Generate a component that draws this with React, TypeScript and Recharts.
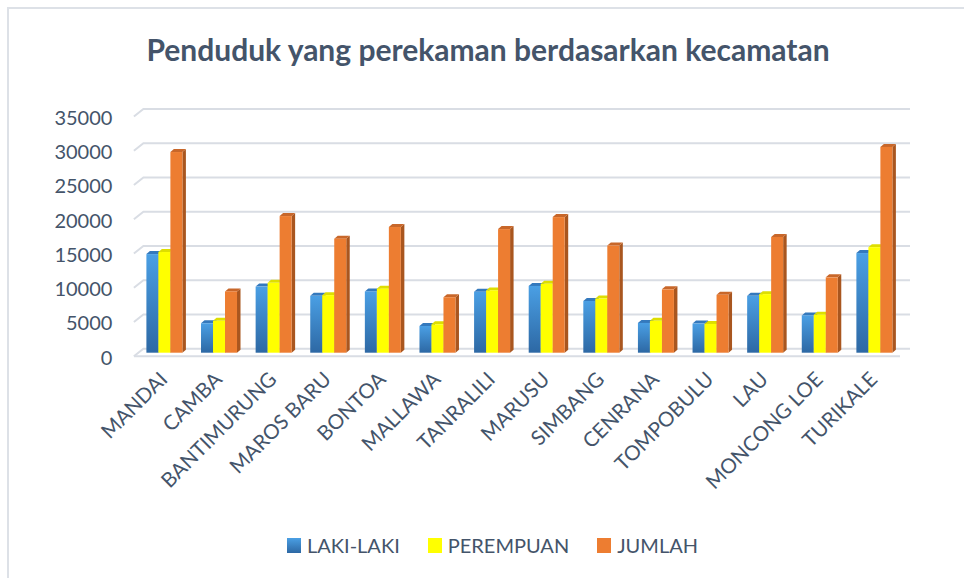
import React from 'react';
import { BarChart, Bar, XAxis, YAxis, CartesianGrid, Legend } from 'recharts';

const categories = ['MANDAI', 'CAMBA', 'BANTIMURUNG', 'MAROS BARU', 'BONTOA', 'MALLAWA', 'TANRALILI', 'MARUSU', 'SIMBANG', 'CENRANA', 'TOMPOBULU', 'LAU', 'MONCONG LOE', 'TURIKALE'];
const lakiLaki = [14400, 4300, 9650, 8300, 8950, 3900, 8900, 9750, 7550, 4350, 4250, 8300, 5450, 14550];
const perempuan = [14700, 4650, 10200, 8400, 9350, 4150, 9100, 10050, 7900, 4650, 4200, 8550, 5550, 15400];
const jumlah = [29300, 8950, 19950, 16650, 18350, 8100, 18050, 19800, 15650, 9250, 8450, 16900, 11000, 30050];
const yTicks = [0, 5000, 10000, 15000, 20000, 25000, 30000, 35000];
const seriesNames = ['LAKI-LAKI', 'PEREMPUAN', 'JUMLAH'];
const title = 'Penduduk yang perekaman berdasarkan kecamatan';

const data = categories.map((c, i) => ({
  name: c,
  laki: lakiLaki[i],
  perempuan: perempuan[i],
  jumlah: jumlah[i],
}));

const TEXT = '#44546a';
const FONT = 'Lato, "Open Sans", sans-serif';
const GRID = '#d9dde4';

const makeShape = (front: string, side: string, top: string) => (props: any) => {
  const { x, y, width, height } = props;
  if (!height || height <= 0) return <g />;
  const dx = 3.5;
  const dy = 3;
  const base = y + height;
  return (
    <g>
      <polygon points={`${x + width},${y} ${x + width + dx},${y - dy} ${x + width + dx},${base - dy} ${x + width},${base}`} fill={side} />
      <polygon points={`${x},${y} ${x + dx},${y - dy} ${x + width + dx},${y - dy} ${x + width},${y}`} fill={top} />
      <rect x={x} y={y} width={width} height={height} fill={front} />
    </g>
  );
};

const blueShape = makeShape('url(#blueGrad)', '#2a5f96', '#3479bd');
const yellowShape = makeShape('#ffff00', '#c4c400', '#dede00');
const orangeShape = makeShape('#ed7d31', '#a9561f', '#c8672a');

const YTick = (props: any) => (
  <text x={props.x} y={props.y + 4} textAnchor="end" dominantBaseline="central" fill={TEXT} fontSize={20} fontFamily={FONT}>
    {props.payload.value}
  </text>
);

const XTick = (props: any) => {
  const tx = props.x + 4;
  const ty = props.y + 20;
  return (
    <text x={tx} y={ty} transform={`rotate(-45 ${tx} ${ty})`} textAnchor="end" fill={TEXT} fontSize={20.5} fontFamily={FONT}>
      {props.payload.value}
    </text>
  );
};

const gridLine = (props: any) => {
  const { x1, x2, y1 } = props;
  const y = y1;
  const isFloor = y > 340;
  return (
    <g key={props.key}>
      <polyline points={`${x1 - 3.5},${y + 3.5} ${x1 + 6},${y - 4} ${x2 + 8},${y - 4}`} fill="none" stroke={GRID} strokeWidth={2} />
      {isFloor ? <line x1={x1 - 3.5} y1={y + 3.5} x2={x2 - 2} y2={y + 3.5} stroke={GRID} strokeWidth={2} /> : null}
    </g>
  );
};

const swatches = ['url(#blueGradL)', '#ffff00', '#ed7d31'];

const LegendContent = () => (
  <div style={{ display: 'flex', alignItems: 'center', marginLeft: 287, fontFamily: FONT, fontSize: 20, color: TEXT }}>
    {seriesNames.map((n, i) => (
      <div key={n} style={{ display: 'flex', alignItems: 'center', marginRight: 28 }}>
        <svg width={14} height={15} style={{ marginRight: 6 }}>
          <defs>
            <linearGradient id="blueGradL" x1="0" y1="0" x2="0" y2="1">
              <stop offset="0%" stopColor="#4a9fe4" />
              <stop offset="100%" stopColor="#2d68a4" />
            </linearGradient>
          </defs>
          <rect x={0} y={0} width={14} height={15} fill={swatches[i]} />
        </svg>
        <span>{n}</span>
      </div>
    ))}
  </div>
);

export default function App() {
  return (
    <div style={{ position: 'absolute', left: 0, top: 0, width: 964, height: 578, overflow: 'hidden', background: '#fff' }}>
      <div style={{ position: 'absolute', left: 7, top: 7, width: 1100, height: 800, border: '2px solid #dde1e7' }} />
      <svg style={{ position: 'absolute', left: 0, top: 0 }} width={964} height={80}>
        <text x={488} y={61} textAnchor="middle" fill={TEXT} fontSize={30} fontWeight={700} fontFamily={FONT}>
          {title}
        </text>
      </svg>
      <div style={{ position: 'absolute', left: 0, top: 0 }}>
        <BarChart
          width={964}
          height={578}
          data={data}
          margin={{ top: 113, right: 62, left: 0, bottom: 125.3 }}
          barGap={0}
          barSize={12}
        >
          <defs>
            <linearGradient id="blueGrad" x1="0" y1="0" x2="0" y2="1">
              <stop offset="0%" stopColor="#4a9fe4" />
              <stop offset="100%" stopColor="#2d68a4" />
            </linearGradient>
          </defs>
          <CartesianGrid vertical={false} horizontal={gridLine} />
          <XAxis dataKey="name" interval={0} tickLine={false} axisLine={false} height={100} tick={<XTick />} />
          <YAxis
            width={137.4}
            domain={[0, 35000]}
            ticks={yTicks}
            interval={0}
            tickLine={false}
            axisLine={false}
            tickSize={0}
            tickMargin={25}
            tick={<YTick />}
          />
          <Legend
            layout="horizontal"
            verticalAlign="middle"
            align="center"
            wrapperStyle={{ top: 533, left: 0, width: 964 }}
            content={<LegendContent />}
          />
          <Bar dataKey="laki" name={seriesNames[0]} fill="#3a84cc" shape={blueShape} isAnimationActive={false} />
          <Bar dataKey="perempuan" name={seriesNames[1]} fill="#ffff00" shape={yellowShape} isAnimationActive={false} />
          <Bar dataKey="jumlah" name={seriesNames[2]} fill="#ed7d31" shape={orangeShape} isAnimationActive={false} />
        </BarChart>
      </div>
    </div>
  );
}
